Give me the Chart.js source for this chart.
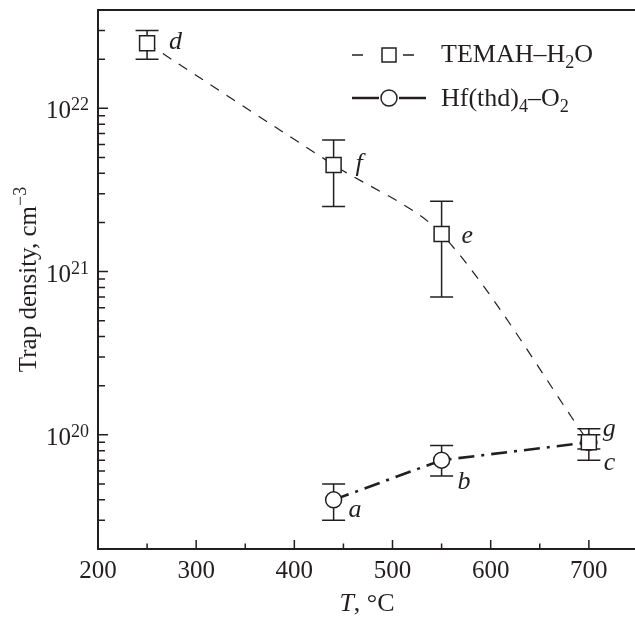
<!DOCTYPE html>
<html>
<head>
<meta charset="utf-8">
<script src="https://cdn.jsdelivr.net/npm/chart.js@4.4.1/dist/chart.umd.min.js"></script>
<style>
  html, body { margin: 0; padding: 0; background: #fff; }
  #wrap { width: 635px; height: 617px; position: relative; }
</style>
</head>
<body>
<div id="wrap"><canvas id="c" width="635" height="617"></canvas></div>
<script>
// ---- data ----
const temahT = [250, 440, 550, 700];
const temahN = [2.5e22, 4.5e21, 1.7e21, 9.0e19];
const temahLo = [2.0e22, 2.5e21, 7.0e20, 8.2e19];
const temahHi = [3.0e22, 6.4e21, 2.7e21, 1.09e20];
const temahTags = ['d', 'f', 'e', 'g'];

const hfT = [440, 550, 700];
const hfN = [4.0e19, 7.0e19, 9.0e19];
const hfLo = [3.0e19, 5.6e19, 7.0e19];
const hfHi = [5.0e19, 8.6e19, 1.0e20];
const hfTags = ['a', 'b', 'c'];

const xTicks = [200, 300, 400, 500, 600, 700];
const xMinorTicks = [250, 350, 450, 550, 650];
const yDecades = [19, 20, 21, 22];
const yLabelExps = ['20', '21', '22'];

const seriesNames = ['TEMAH\u2013H|2|O', 'Hf(thd)|4|\u2013O|2'];

// ---- styles ----
const INK = '#231f20';
const SERIF = '"Liberation Serif", "Times New Roman", serif';
const tagOffsets = {
  d: [22, 6], f: [22, 6], e: [20, 9], g: [14, -6],
  a: [15, 17], b: [16, 29], c: [15, 28]
};

function font(size, italic) { return (italic ? 'italic ' : '') + size + 'px ' + SERIF; }

function drawParts(ctx, parts, x, y, align) {
  let total = 0;
  parts.forEach(p => { ctx.font = font(p.size, p.italic); p.w = ctx.measureText(p.t).width; total += p.w; });
  let cx = align === 'right' ? x - total : align === 'center' ? x - total / 2 : x;
  ctx.textAlign = 'left';
  ctx.textBaseline = 'alphabetic';
  parts.forEach(p => {
    ctx.font = font(p.size, p.italic);
    ctx.fillText(p.t, cx, y + (p.dy || 0));
    cx += p.w;
  });
}
function subParts(str, size) {
  return str.split('|').map((s, i) => i % 2 ? { t: s, size: size * 0.7, dy: 6 } : { t: s, size: size });
}

const overlay = {
  id: 'overlay',
  beforeDatasetsDraw(chart) {
    const ctx = chart.ctx, xs = chart.scales.x, ys = chart.scales.y;
    ctx.save();
    ctx.strokeStyle = INK;
    ctx.lineWidth = 1.5;
    const bars = (T, lo, hi) => T.forEach((t, i) => {
      const px = xs.getPixelForValue(t);
      const y1 = ys.getPixelForValue(lo[i]), y2 = ys.getPixelForValue(hi[i]);
      ctx.beginPath();
      ctx.moveTo(px, y1); ctx.lineTo(px, y2);
      ctx.moveTo(px - 11.5, y1); ctx.lineTo(px + 11.5, y1);
      ctx.moveTo(px - 11.5, y2); ctx.lineTo(px + 11.5, y2);
      ctx.stroke();
    });
    bars(temahT, temahLo, temahHi);
    bars(hfT, hfLo, hfHi);
    ctx.restore();
  },
  afterDraw(chart) {
    const ctx = chart.ctx, xs = chart.scales.x, ys = chart.scales.y, a = chart.chartArea;
    ctx.save();
    ctx.strokeStyle = INK;
    ctx.fillStyle = INK;
    // top border
    ctx.lineWidth = 2;
    ctx.beginPath(); ctx.moveTo(a.left - 1, a.top); ctx.lineTo(a.right, a.top); ctx.stroke();
    // inward ticks
    ctx.lineWidth = 1.5;
    ctx.beginPath();
    xTicks.forEach(v => { const p = xs.getPixelForValue(v); ctx.moveTo(p, a.bottom); ctx.lineTo(p, a.bottom - 9); });
    xMinorTicks.forEach(v => { const p = xs.getPixelForValue(v); ctx.moveTo(p, a.bottom); ctx.lineTo(p, a.bottom - 5.5); });
    yDecades.forEach(d => {
      for (let m = 1; m <= 9; m++) {
        const v = m * Math.pow(10, d);
        if (v < ys.min || v > ys.max) continue;
        const p = ys.getPixelForValue(v);
        ctx.moveTo(a.left, p); ctx.lineTo(a.left + (m === 1 ? 10 : 7), p);
      }
    });
    ctx.stroke();
    // x tick labels
    xTicks.forEach(v => {
      drawParts(ctx, [{ t: String(v), size: 25 }], xs.getPixelForValue(v), a.bottom + 29, 'center');
    });
    // y tick labels 10^n
    yLabelExps.forEach(e => {
      const p = ys.getPixelForValue(Math.pow(10, +e));
      drawParts(ctx, [{ t: '10', size: 25 }, { t: e, size: 18, dy: -8 }], a.left - 9, p + 10, 'right');
    });
    // y title
    ctx.save();
    ctx.translate(36, (a.top + a.bottom) / 2);
    ctx.rotate(-Math.PI / 2);
    drawParts(ctx, [{ t: 'Trap density, cm', size: 25 }, { t: '\u22123', size: 18, dy: -10 }], 0, 0, 'center');
    ctx.restore();
    // x title
    drawParts(ctx, [{ t: 'T', size: 26, italic: true }, { t: ', \u00B0C', size: 26 }], 367, 611, 'center');
    // point tags
    const tags = (T, N, names) => T.forEach((t, i) => {
      const off = tagOffsets[names[i]];
      drawParts(ctx, [{ t: names[i], size: 26, italic: true }], xs.getPixelForValue(t) + off[0], ys.getPixelForValue(N[i]) + off[1], 'left');
    });
    tags(temahT, temahN, temahTags);
    tags(hfT, hfN, hfTags);
    // legend item 1: dashed + square
    let ly = 55;
    ctx.lineWidth = 1.3;
    ctx.beginPath(); ctx.moveTo(352, ly); ctx.lineTo(363, ly); ctx.moveTo(403, ly); ctx.lineTo(414, ly); ctx.stroke();
    ctx.fillStyle = '#fff';
    ctx.lineWidth = 1.5;
    ctx.fillRect(382, ly - 7, 14, 14); ctx.strokeRect(382, ly - 7, 14, 14);
    ctx.fillStyle = INK;
    drawParts(ctx, subParts(seriesNames[0], 26), 441, 62, 'left');
    // legend item 2: dash-dot thick + circle
    ly = 98;
    ctx.lineWidth = 2.6;
    ctx.beginPath(); ctx.moveTo(352, ly); ctx.lineTo(379, ly); ctx.moveTo(399, ly); ctx.lineTo(426, ly); ctx.stroke();
    ctx.lineWidth = 1.5;
    ctx.fillStyle = '#fff';
    ctx.beginPath(); ctx.arc(389, ly, 8, 0, Math.PI * 2); ctx.fill(); ctx.stroke();
    ctx.fillStyle = INK;
    drawParts(ctx, subParts(seriesNames[1], 26), 441, 106, 'left');
    ctx.restore();
  }
};

new Chart(document.getElementById('c'), {
  type: 'scatter',
  data: {
    datasets: [
      {
        label: 'TEMAH\u2013H2O',
        data: temahT.map((t, i) => ({ x: t, y: temahN[i] })),
        showLine: true,
        borderColor: INK,
        borderWidth: 1.2,
        borderDash: [10, 9],
        tension: 0.3,
        pointStyle: 'rect',
        pointRadius: 10.6,
        pointHoverRadius: 10.6,
        pointBackgroundColor: '#fff',
        pointBorderColor: INK,
        pointBorderWidth: 1.5
      },
      {
        label: 'Hf(thd)4\u2013O2',
        data: hfT.map((t, i) => ({ x: t, y: hfN[i] })),
        showLine: true,
        borderColor: INK,
        borderWidth: 2.6,
        borderDash: [16, 7, 3, 7],
        pointStyle: 'circle',
        pointRadius: 8,
        pointHoverRadius: 8,
        pointBackgroundColor: '#fff',
        pointBorderColor: INK,
        pointBorderWidth: 1.5
      }
    ]
  },
  options: {
    responsive: false,
    animation: false,
    events: [],
    layout: { autoPadding: false, padding: { top: 10, right: 0, left: 0, bottom: 0 } },
    plugins: { legend: { display: false }, tooltip: { enabled: false }, title: { display: false } },
    scales: {
      x: {
        type: 'linear',
        min: 200,
        max: 747,
        afterBuildTicks: s => { s.ticks = xTicks.map(v => ({ value: v })); },
        afterFit: s => { s.height = 68; },
        grid: { display: false, drawTicks: false },
        border: { display: true, color: INK, width: 2 },
        ticks: { display: false }
      },
      y: {
        type: 'logarithmic',
        min: 2e19,
        max: 4e22,
        afterFit: s => { s.width = 98; },
        grid: { display: false, drawTicks: false },
        border: { display: true, color: INK, width: 2 },
        ticks: { display: false }
      }
    }
  },
  plugins: [overlay]
});
</script>
</body>
</html>
